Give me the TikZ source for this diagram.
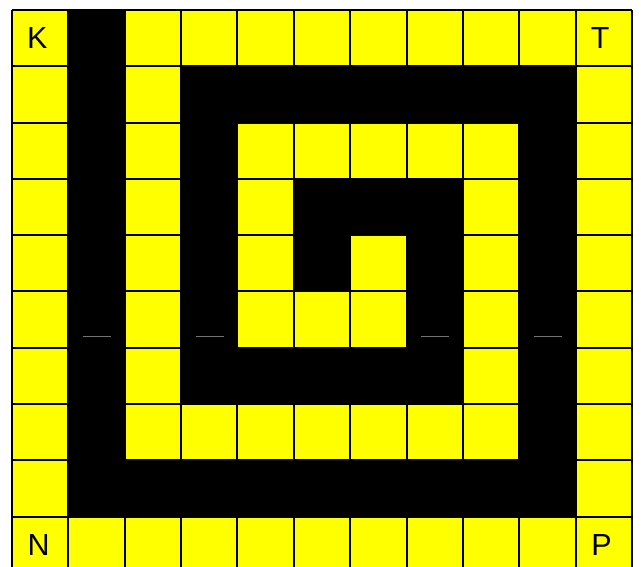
\documentclass[tikz,border=0pt]{standalone}
\usepackage{fontspec}
\setmainfont{Liberation Sans}
\definecolor{cellyellow}{RGB}{255,255,0}
\definecolor{cellblack}{RGB}{0,0,0}
\begin{document}
\begin{tikzpicture}[x=1pt,y=-1pt,
  cellgrid/.style={draw=cellblack,line width=2pt},
  blackblock/.style={fill=cellblack},
  lettertext/.style={inner sep=0pt,anchor=west,font=\fontsize{30.5}{36}\selectfont},
  gapmark/.style={draw=black!55,line width=1pt}]
\def\cw{56.364}
\def\ch{56.3}
\useasboundingbox (0,0) rectangle (641,567);
\clip (0,0) rectangle (641,567);
% yellow grid
\fill[cellyellow] (12,10) rectangle ({12+11*\cw},{10+10*\ch});
\foreach \c in {0,...,11} \draw[cellgrid] ({12+\c*\cw},10) -- ({12+\c*\cw},{10+10*\ch});
\foreach \r in {0,...,10} \draw[cellgrid] (12,{10+\r*\ch}) -- ({12+11*\cw},{10+\r*\ch});
% black spiral
\foreach \ca/\ra/\cb/\rb in {1/0/1/8, 1/8/9/8, 3/1/9/1, 9/1/9/8, 3/1/3/6, 3/6/7/6, 7/3/7/6, 5/3/7/3, 5/3/5/4}
  \fill[blackblock] ({12+\ca*\cw-1},{10+\ra*\ch-1}) rectangle ({12+(\cb+1)*\cw+1},{10+(\rb+1)*\ch+1});
% faint marks
\foreach \c in {1,3,7,9}
  \draw[gapmark] ({12+\c*\cw+14.6},337) -- ({12+\c*\cw+42.6},337);
% corner letters
\node[lettertext] (nK) at (27,{10+0.5*\ch}) {K};
\node[lettertext] (nT) at ({12+10*\cw+15},{10+0.5*\ch}) {T};
\node[lettertext] (nN) at (27.5,{10+9.5*\ch}) {N};
\node[lettertext] (nP) at ({12+10*\cw+15.5},{10+9.5*\ch}) {P};
\end{tikzpicture}
\end{document}
